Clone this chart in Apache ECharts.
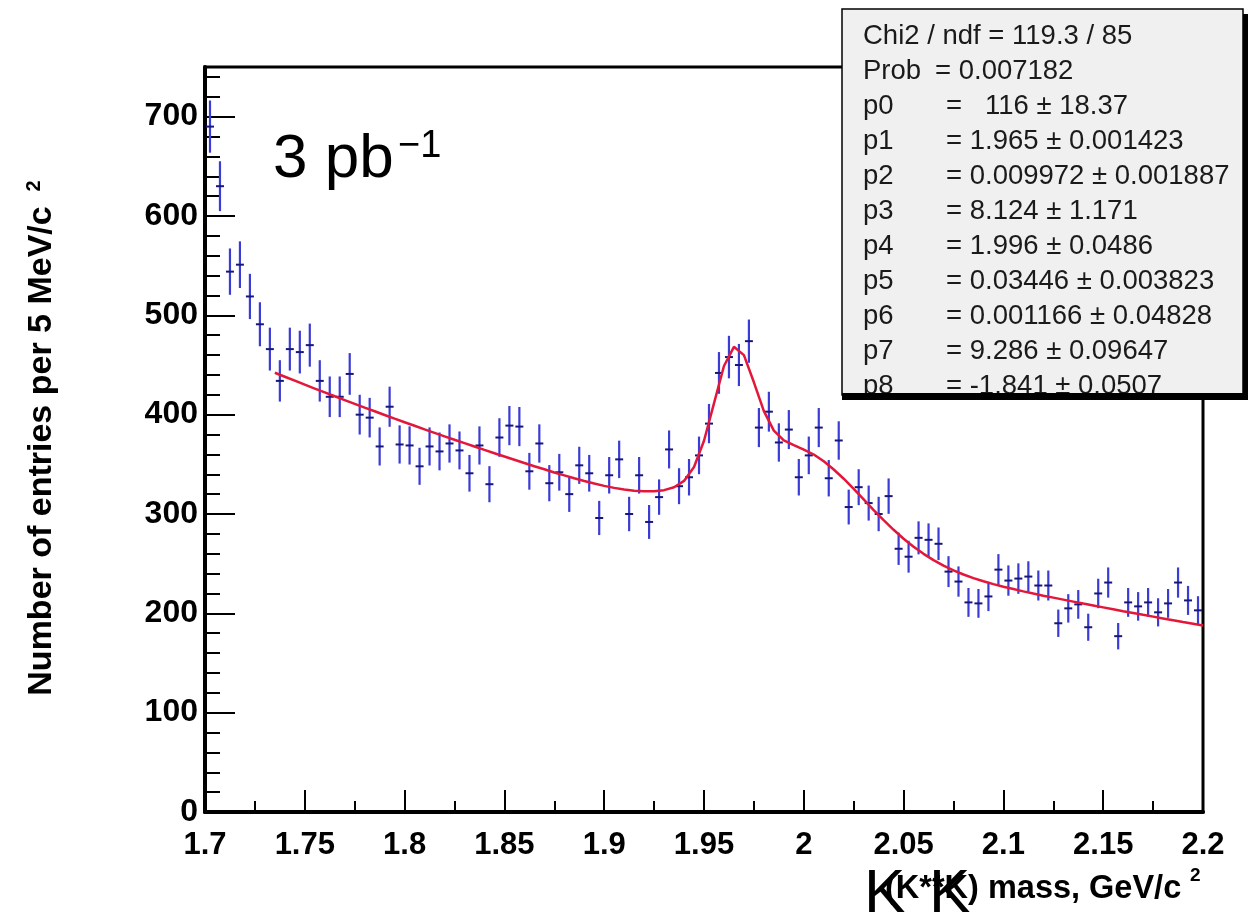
<!DOCTYPE html>
<html><head><meta charset="utf-8">
<script src="https://cdn.jsdelivr.net/npm/echarts@6/dist/echarts.min.js"></script>
<style>html,body{margin:0;padding:0;background:#fff}#c{width:1256px;height:918px}</style>
</head><body><div id="c"></div>
<script>
// Histogram binning (5 MeV bins from 1.7 GeV)
const binLow = 1.7;
const binWidth = 0.005;
// Entries per bin
const counts = [
  690, 630, 544, 551, 519, 491, 466, 434, 466, 463,
  470, 434, 418, 418, 441, 400, 397, 368, 408, 370,
  369, 348, 368, 363, 371, 364, 341, 369, 330, 377,
  389, 388, 343, 371, 331, 342, 320, 349, 341, 296,
  339, 355, 300, 339, 292, 317, 365, 328, 337, 359,
  391, 442, 458, 450, 474, 387, 403, 372, 385, 337,
  359, 387, 336, 374, 307, 327, 311, 300, 318, 265,
  257, 276, 274, 270, 242, 232, 211, 210, 217, 244,
  233, 235, 237, 228, 228, 190, 205, 209, 186, 220,
  231, 177, 211, 207, 211, 201, 210, 231, 213, 203
];
// Fit curve samples
const fitX = [
  1.735,1.74,1.745,1.75,1.755,1.76,1.765,1.77,1.775,1.78,
  1.785,1.79,1.795,1.8,1.805,1.81,1.815,1.82,1.825,1.83,
  1.835,1.84,1.845,1.85,1.855,1.86,1.865,1.87,1.875,1.88,
  1.885,1.89,1.895,1.9,1.905,1.91,1.915,1.92,1.925,1.93,
  1.935,1.94,1.945,1.95,1.955,1.96,1.965,1.97,1.975,1.98,
  1.985,1.99,1.995,2.0,2.005,2.01,2.015,2.02,2.025,2.03,
  2.035,2.04,2.045,2.05,2.055,2.06,2.065,2.07,2.075,2.08,
  2.085,2.09,2.095,2.1,2.105,2.11,2.115,2.12,2.125,2.13,
  2.135,2.14,2.145,2.15,2.155,2.16,2.165,2.17,2.175,2.18,
  2.185,2.19,2.195,2.2
];
const fitY = [
  442.2,438.2,434.2,430.2,426.3,422.4,418.5,414.7,410.9,407.1,
  403.4,399.7,396.0,392.4,388.8,385.2,381.7,378.2,374.7,371.3,
  367.9,364.5,361.2,357.9,354.6,351.3,348.1,345.0,341.8,338.9,
  336.0,333.2,330.7,328.3,326.3,324.6,323.4,322.9,323.0,324.0,
  326.9,333.3,347.3,373.7,411.4,449.0,468.3,459.9,432.6,403.5,
  383.9,374.1,369.3,364.9,359.9,353.1,344.8,335.5,325.3,314.7,
  304.0,293.8,284.1,275.1,267.0,259.9,253.6,248.1,243.3,239.1,
  235.5,232.3,229.4,226.8,224.5,222.1,219.9,217.8,215.8,213.8,
  211.8,209.8,207.9,206.0,204.1,202.2,200.4,198.5,196.7,194.9,
  193.1,191.3,189.6,187.8
];
// Fit statistics box text
const statHead = ["Chi2 / ndf = 119.3 / 85"];
const probLabel = "Prob";
const probValue = "= 0.007182";
const parNames = ["p0","p1","p2","p3","p4","p5","p6","p7","p8"];
const parValues = [
  "=   116 ± 18.37",
  "= 1.965 ± 0.001423",
  "= 0.009972 ± 0.001887",
  "= 8.124 ± 1.171",
  "= 1.996 ± 0.0486",
  "= 0.03446 ± 0.003823",
  "= 0.001166 ± 0.04828",
  "= 9.286 ± 0.09647",
  "= -1.841 ± 0.0507"
];
const yTitle = "Number of entries per 5 MeV/c";
const xTitle = "(K**K) mass, GeV/c";
const lumiText = "3 pb";
const lumiSup = "\u22121";

const chart = echarts.init(document.getElementById('c'), null, {renderer: 'canvas'});
const FONT = '"Liberation Sans", Arial, Helvetica, sans-serif';
const SFONT = '27.5px ' + FONT;

const histData = counts.map((c, i) => [binLow + binWidth * (i + 0.5), c]);
const fitData = fitX.map((x, i) => [x, fitY[i]]);

const statTop = 36, statStep = 35;
const graphics = [];
// stats box shadow and box
graphics.push({type:'rect', z:100, shape:{x:847, y:14, width:401, height:386}, style:{fill:'#000'}});
graphics.push({type:'rect', z:101, shape:{x:842, y:9, width:401, height:386}, style:{fill:'#f0f0f0', stroke:'#000', lineWidth:1.5}});
graphics.push({type:'text', z:102, x:863, y:statTop, style:{text:statHead[0], font:SFONT, fill:'#1a1a1a', textVerticalAlign:'middle'}});
graphics.push({type:'text', z:102, x:863, y:statTop + statStep, style:{text:probLabel, font:SFONT, fill:'#1a1a1a', textVerticalAlign:'middle'}});
graphics.push({type:'text', z:102, x:935, y:statTop + statStep, style:{text:probValue, font:SFONT, fill:'#1a1a1a', textVerticalAlign:'middle'}});
parNames.forEach((n, i) => {
  const yy = statTop + statStep * (i + 2);
  graphics.push({type:'text', z:102, x:863, y:yy, style:{text:n, font:SFONT, fill:'#1a1a1a', textVerticalAlign:'middle'}});
  graphics.push({type:'text', z:102, x:946, y:yy, style:{text:parValues[i], font:SFONT, fill:'#1a1a1a', textVerticalAlign:'middle'}});
});
// clip the last line under the box bottom edge
graphics.push({type:'rect', z:103, shape:{x:842, y:393, width:406, height:7}, style:{fill:'#000'}});
graphics.push({type:'rect', z:103, shape:{x:842, y:400, width:356, height:10}, style:{fill:'#fff'}});

// luminosity label
graphics.push({type:'text', z:50, x:273, y:160, style:{text:lumiText, font:'62px ' + FONT, fill:'#000', textVerticalAlign:'middle'}});
graphics.push({type:'text', z:50, x:398, y:147, style:{text:lumiSup, font:'38px ' + FONT, fill:'#000', textVerticalAlign:'middle'}});

// y title (rotated)
graphics.push({type:'text', z:50, x:42, y:451, rotation:Math.PI/2, style:{text:yTitle, font:'bold 34px ' + FONT, fill:'#000', textAlign:'center', textVerticalAlign:'middle'}});
graphics.push({type:'text', z:50, x:34, y:186, rotation:Math.PI/2, style:{text:'2', font:'bold 20px ' + FONT, fill:'#000', textAlign:'center', textVerticalAlign:'middle'}});

// x title
graphics.push({type:'text', z:50, x:885, y:889, style:{text:xTitle, font:'bold 32.5px ' + FONT, fill:'#000', textVerticalAlign:'middle'}});
graphics.push({type:'text', z:50, x:1190, y:876, style:{text:'2', font:'bold 19px ' + FONT, fill:'#000', textVerticalAlign:'middle'}});
graphics.push({type:'text', z:51, x:864, y:895, style:{text:'K', font:'62px ' + FONT, fill:'#000', textVerticalAlign:'middle'}});
graphics.push({type:'text', z:51, x:929, y:895, style:{text:'K', font:'62px ' + FONT, fill:'#000', textVerticalAlign:'middle'}});

const option = {
  animation: false,
  backgroundColor: '#fff',
  grid: {left: 205, top: 67, width: 998, height: 745, show: true, borderColor: '#000', borderWidth: 3, backgroundColor: 'transparent'},
  xAxis: {
    type: 'value', min: 1.7, max: 2.2, interval: 0.05,
    axisLine: {show: true, onZero: false, lineStyle: {color: '#000', width: 4}},
    axisTick: {show: true, inside: true, length: 22, lineStyle: {color: '#000', width: 2}},
    minorTick: {show: true, splitNumber: 2, length: 11, lineStyle: {color: '#000', width: 2}},
    axisLabel: {color: '#000', fontFamily: FONT, fontWeight: 'bold', fontSize: 31, margin: 18,
      formatter: v => String(+v.toFixed(2))},
    splitLine: {show: false}
  },
  yAxis: [{
    type: 'value', min: 0, max: 750, interval: 100, position: 'left',
    axisLine: {show: true, onZero: false, lineStyle: {color: '#000', width: 4}},
    axisTick: {show: true, inside: true, length: 30, lineStyle: {color: '#000', width: 2}},
    axisLabel: {color: '#000', fontFamily: FONT, fontWeight: 'bold', fontSize: 32, margin: 7, showMaxLabel: false},
    splitLine: {show: false}
  }, {
    type: 'value', min: 0, max: 750, interval: 20, position: 'left', offset: 0,
    axisLine: {show: false},
    axisTick: {show: true, inside: true, length: 15, lineStyle: {color: '#000', width: 2}},
    axisLabel: {show: false},
    splitLine: {show: false}
  }],
  series: [{
    type: 'custom',
    data: histData,
    z: 3,
    clip: true,
    renderItem: function (params, api) {
      const x = api.value(0), y = api.value(1);
      const err = Math.sqrt(y); // Poisson error bar
      const top = api.coord([x, y + err]);
      const bot = api.coord([x, y - err]);
      const l = api.coord([x - binWidth * 0.4, y]);
      const r = api.coord([x + binWidth * 0.4, y]);
      return {type: 'group', children: [
        {type: 'line', shape: {x1: top[0], y1: top[1], x2: bot[0], y2: bot[1]}, style: {stroke: '#3b3bd6', lineWidth: 2.2}},
        {type: 'line', shape: {x1: l[0], y1: l[1], x2: r[0], y2: r[1]}, style: {stroke: '#17177a', lineWidth: 2}}
      ]};
    }
  }, {
    type: 'line',
    data: fitData,
    z: 4,
    showSymbol: false,
    smooth: false,
    lineStyle: {color: '#e3173a', width: 2.5}
  }],
  graphic: {elements: graphics}
};
chart.setOption(option);
</script>
</body></html>
